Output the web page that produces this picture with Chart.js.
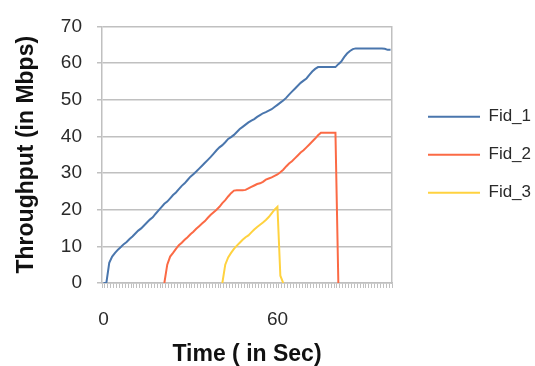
<!DOCTYPE html>
<html>
<head>
<meta charset="utf-8">
<title>Throughput per flow</title>
<script src="https://cdn.jsdelivr.net/npm/chart.js@4/dist/chart.umd.min.js"></script>
<style>
  html, body { margin: 0; padding: 0; background: #fff; }
  #wrap { width: 535px; height: 366px; }
</style>
</head>
<body>
<div id="wrap"><canvas id="chart" width="535" height="366"></canvas></div>
<script>
// Time samples (seconds)
const timeSec = [
  0, 1, 2, 3, 4, 5, 6, 7, 8, 9, 10, 11, 12, 13, 14, 15, 16, 17, 18, 19,
  20, 21, 22, 23, 24, 25, 26, 27, 28, 29, 30, 31, 32, 33, 34, 35, 36, 37, 38, 39,
  40, 41, 42, 43, 44, 45, 46, 47, 48, 49, 50, 51, 52, 53, 54, 55, 56, 57, 58, 59,
  60, 61, 62, 63, 64, 65, 66, 67, 68, 69, 70, 71, 72, 73, 74, 75, 76, 77, 78, 79,
  80, 81, 82, 83, 84, 85, 86, 87, 88, 89, 90, 91, 92, 93, 94, 95, 96, 97, 98, 99
];

// Only these time labels are printed under the axis
const shownTimeLabels = [0, 60];

// Throughput of each flow (Mbps)
const fid1 = [
  0, 0, 5.5, 7.2, 8.2, 9.1, 9.8, 10.6, 11.2, 12,
  12.7, 13.5, 14.3, 14.9, 15.7, 16.5, 17.3, 17.9, 18.9, 19.8,
  20.7, 21.6, 22.2, 23.1, 24, 24.7, 25.6, 26.5, 27.2, 28.1,
  29, 29.7, 30.4, 31.2, 32, 32.8, 33.6, 34.4, 35.3, 36.2,
  37, 37.6, 38.4, 39.3, 39.8, 40.4, 41.2, 42, 42.6, 43.2,
  43.8, 44.3, 44.7, 45.3, 45.8, 46.3, 46.6, 47, 47.4, 48,
  48.6, 49.2, 49.8, 50.5, 51.4, 52.2, 53, 53.8, 54.6, 55.2,
  55.8, 56.8, 57.7, 58.4, 58.9, 58.9, 58.9, 58.9, 58.9, 58.9,
  58.9, 59.7, 60.4, 61.6, 62.6, 63.3, 63.8, 64, 64, 64,
  64, 64, 64, 64, 64, 64, 64, 63.9, 63.6, 63.6
];

const fid2 = [
  null, null, null, null, null, null, null, null, null, null,
  null, null, null, null, null, null, null, null, null, null,
  null, 0, 5, 7.2, 8.2, 9.3, 10.3, 11, 11.8, 12.5,
  13.3, 14, 14.8, 15.5, 16.2, 16.9, 17.8, 18.6, 19.3, 20,
  20.8, 21.8, 22.6, 23.6, 24.5, 25.2, 25.3, 25.3, 25.3, 25.4,
  25.8, 26.2, 26.6, 27, 27.2, 27.6, 28.2, 28.5, 28.8, 29.2,
  29.6, 30.2, 30.9, 31.8, 32.6, 33.2, 34, 34.8, 35.6, 36.2,
  37, 37.8, 38.6, 39.4, 40.3, 41, 41, 41, 41, 41,
  41, 0, null, null, null, null, null, null, null, null,
  null, null, null, null, null, null, null, null, null, null
];

const fid3 = [
  null, null, null, null, null, null, null, null, null, null,
  null, null, null, null, null, null, null, null, null, null,
  null, null, null, null, null, null, null, null, null, null,
  null, null, null, null, null, null, null, null, null, null,
  null, 0, 5, 7, 8.2, 9.3, 10.2, 11, 11.8, 12.5,
  13, 13.8, 14.6, 15.3, 15.9, 16.5, 17.2, 18, 19, 20,
  20.8, 2, 0, null, null, null, null, null, null, null,
  null, null, null, null, null, null, null, null, null, null,
  null, null, null, null, null, null, null, null, null, null,
  null, null, null, null, null, null, null, null, null, null
];

const FONT = "'Liberation Sans', Arial, sans-serif";
const GRID = '#c0c0c0';
const TEXT = '#2a2a2a';

// Legend is wider on the page than Chart.js would make it
const legendWidthFix = {
  id: 'legendWidthFix',
  beforeLayout(chart) {
    const legend = chart.legend;
    if (legend && !legend._widthFixed) {
      const fit = legend.fit;
      legend.fit = function() {
        fit.call(this);
        this.width = 128;
      };
      legend._widthFixed = true;
    }
  }
};

function makeSeries(label, data, color) {
  return {
    label: label,
    data: data,
    borderColor: color,
    backgroundColor: color,
    borderWidth: 2,
    pointRadius: 0,
    pointHoverRadius: 0,
    tension: 0,
    fill: false
  };
}

const ctx = document.getElementById('chart').getContext('2d');
new Chart(ctx, {
  type: 'line',
  data: {
    labels: timeSec,
    datasets: [
      makeSeries('Fid_1', fid1, '#4a76ad'),
      makeSeries('Fid_2', fid2, '#fb6a45'),
      makeSeries('Fid_3', fid3, '#ffd23f')
    ]
  },
  plugins: [legendWidthFix],
  options: {
    responsive: false,
    animation: false,
    layout: { padding: { top: 20, left: 0, right: 0, bottom: 0 } },
    plugins: {
      tooltip: { enabled: false },
      legend: {
        position: 'right',
        fullSize: false,
        labels: {
          usePointStyle: true,
          pointStyle: 'line',
          pointStyleWidth: 52,
          padding: 21,
          color: TEXT,
          font: { family: FONT, size: 17 }
        }
      }
    },
    scales: {
      x: {
        offset: true,
        grid: {
          drawOnChartArea: false,
          drawTicks: true,
          offset: true,
          tickLength: 5,
          color: GRID
        },
        border: { color: GRID, width: 1.5 },
        ticks: {
          autoSkip: false,
          maxRotation: 0,
          minRotation: 0,
          padding: 20,
          color: TEXT,
          font: { family: FONT, size: 19 },
          callback: function(value, index) {
            const t = timeSec[index];
            return shownTimeLabels.includes(t) ? String(t) : '';
          }
        },
        title: {
          display: true,
          text: 'Time ( in Sec)',
          color: '#111',
          padding: { top: 0, bottom: 0 },
          font: { family: FONT, size: 23, weight: 'bold', lineHeight: 1 }
        },
        afterFit: function(scale) { scale.height = 83; }
      },
      y: {
        min: 0,
        max: 70,
        ticks: {
          stepSize: 10,
          padding: 15,
          color: TEXT,
          font: { family: FONT, size: 19 }
        },
        grid: { color: GRID, lineWidth: 1.5, tickLength: 5 },
        border: { color: GRID, width: 1.5 },
        title: {
          display: true,
          text: 'Throughput (in Mbps)',
          color: '#111',
          padding: { top: 15, bottom: 0 },
          font: { family: FONT, size: 23, weight: 'bold', lineHeight: 1 }
        },
        afterFit: function(scale) { scale.width = 102; }
      },
      // right-hand frame of the plot, also keeps the legend away from it
      yFrame: {
        position: 'right',
        min: 0,
        max: 70,
        grid: { drawOnChartArea: false, drawTicks: false },
        ticks: { display: false },
        border: { color: GRID, width: 1.5 },
        afterFit: function(scale) { scale.width = 15; }
      }
    }
  }
});
</script>
</body>
</html>
